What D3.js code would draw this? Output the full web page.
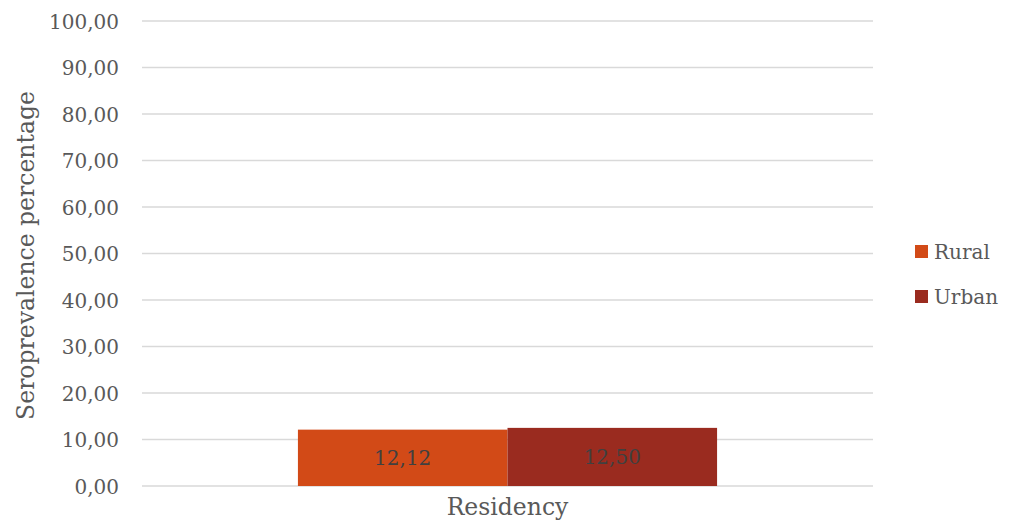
<!DOCTYPE html>
<html>
<head>
<meta charset="utf-8">
<script src="https://cdn.jsdelivr.net/npm/d3@7"></script>
<style>
  html, body { margin: 0; padding: 0; background: #fff; }
  svg text { font-family: "DejaVu Serif", "Liberation Serif", serif; }
</style>
</head>
<body>
<svg id="chart" width="1011" height="526"></svg>
<script>
// Seroprevalence by residency
const categories = ["Residency"];
const seriesNames = ["Rural", "Urban"];
const seriesValues = [12.12, 12.50];
const seriesColors = ["#D24A17", "#9A2B1F"];
const yTicks = [0, 10, 20, 30, 40, 50, 60, 70, 80, 90, 100];

const svg = d3.select("#chart");
const plot = { left: 142, right: 873, top: 21, bottom: 486 };

const fmt = v => d3.format(".2f")(v).replace(".", ",");

const y = d3.scaleLinear().domain([0, 100]).range([plot.bottom, plot.top]);
const x0 = d3.scaleBand().domain(categories).range([plot.left, plot.right])
  .paddingInner(0).paddingOuter(0.372);
const x1 = d3.scaleBand().domain(seriesNames).range([0, x0.bandwidth()]).padding(0);

// Gridlines
svg.append("g")
  .selectAll("line").data(yTicks).join("line")
  .attr("x1", plot.left).attr("x2", plot.right)
  .attr("y1", d => y(d)).attr("y2", d => y(d))
  .attr("stroke", "#D9D9D9").attr("stroke-width", 1.3);

// Y tick labels
const yAxis = d3.axisLeft(y).tickValues(yTicks).tickFormat(fmt).tickSize(0).tickPadding(0);
const yg = svg.append("g").attr("transform", `translate(119,0)`).call(yAxis);
yg.select(".domain").remove();
yg.selectAll("text")
  .attr("fill", "#595959").attr("font-size", 20)
  .attr("font-family", "DejaVu Serif, serif").attr("dy", "0.35em");

// Bars
const rows = seriesNames.map((name, i) => ({ cat: categories[0], name, value: seriesValues[i], color: seriesColors[i] }));
const grp = svg.append("g");
grp.selectAll("rect").data(rows).join("rect")
  .attr("x", d => x0(d.cat) + x1(d.name))
  .attr("width", x1.bandwidth())
  .attr("y", d => y(d.value))
  .attr("height", d => y(0) - y(d.value))
  .attr("fill", d => d.color);

// Value labels
grp.selectAll("text").data(rows).join("text")
  .attr("x", d => x0(d.cat) + x1(d.name) + x1.bandwidth() / 2)
  .attr("y", d => (y(d.value) + y(0)) / 2)
  .attr("dy", "0.35em")
  .attr("text-anchor", "middle")
  .attr("fill", "#404040").attr("font-size", 20)
  .text(d => fmt(d.value));

// X category label
svg.append("text")
  .attr("x", x0(categories[0]) + x0.bandwidth() / 2)
  .attr("y", 515)
  .attr("text-anchor", "middle")
  .attr("fill", "#595959").attr("font-size", 23.5)
  .text(categories[0]);

// Y axis title
svg.append("text")
  .attr("transform", `translate(34,${(plot.top + plot.bottom) / 2 + 2}) rotate(-90)`)
  .attr("text-anchor", "middle")
  .attr("fill", "#595959").attr("font-size", 23.5)
  .text("Seroprevalence percentage");

// Legend
const legend = svg.append("g").selectAll("g").data(seriesNames).join("g")
  .attr("transform", (d, i) => `translate(915,${245 + i * 45})`);
legend.append("rect").attr("width", 13).attr("height", 13)
  .attr("fill", (d, i) => seriesColors[i]);
legend.append("text").attr("x", 19).attr("y", 6.5).attr("dy", "0.35em")
  .attr("fill", "#595959").attr("font-size", 20)
  .text(d => d);
</script>
</body>
</html>
